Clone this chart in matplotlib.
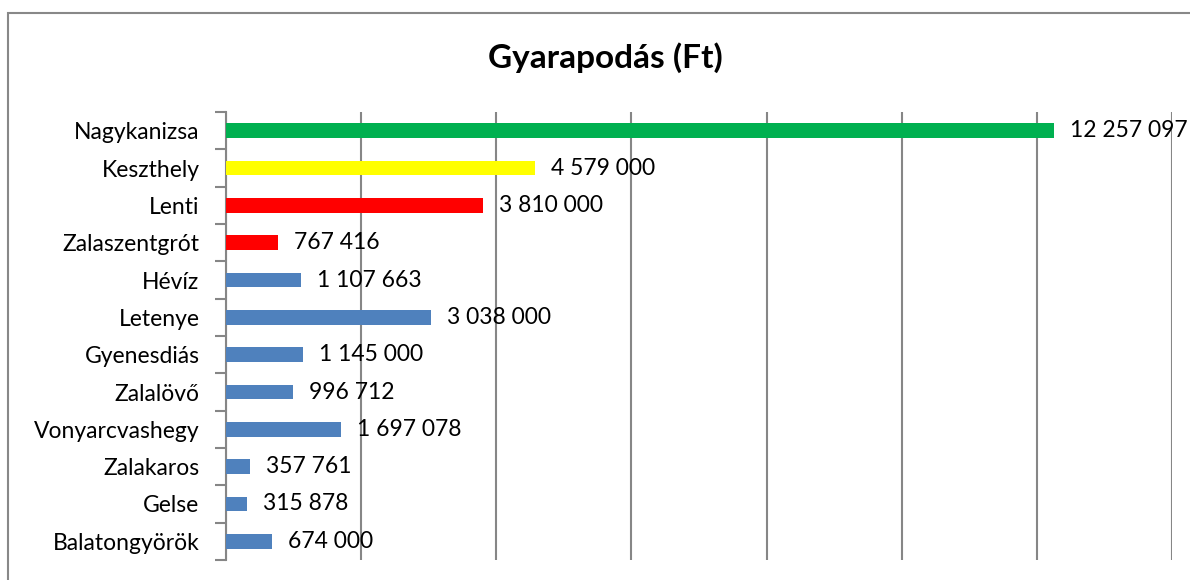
import numpy as np
from matplotlib import pyplot as plt
from matplotlib.patches import Rectangle

telepulesek = ["Nagykanizsa", "Keszthely", "Lenti", "Zalaszentgrót", "Hévíz", "Letenye",
               "Gyenesdiás", "Zalalövő", "Vonyarcvashegy", "Zalakaros", "Gelse", "Balatongyörök"]
gyarapodas = [12257097, 4579000, 3810000, 767416, 1107663, 3038000,
              1145000, 996712, 1697078, 357761, 315878, 674000]
szinek = ["#00B050", "#FFFF00", "#FF0000", "#FF0000"] + ["#4F81BD"] * 8

plt.rcParams['font.family'] = ['Lato', 'DejaVu Sans']

fig = plt.figure(figsize=(11.9, 5.8), dpi=100)
ax = fig.add_axes((226/1190, 20/580, (1172-226)/1190, (560-112)/580))

y = np.arange(len(telepulesek))
ax.barh(y, gyarapodas, height=0.4, color=szinek, zorder=3)
ax.set_ylim(len(telepulesek)-0.5, -0.5)
ax.set_xlim(0, 14000000)

for yi, v in zip(y, gyarapodas):
    s = "{:,}".format(v).replace(",", " ")
    ax.annotate(s, (v, yi), xytext=(16, 0), textcoords="offset pixels",
                va="center", ha="left", fontsize=16.5, color="black", zorder=4)

ax.set_xticks(np.arange(0, 14000001, 2000000))
ax.xaxis.grid(True, color="#868686", lw=1.5, zorder=0)
ax.tick_params(axis="x", length=0, labelbottom=False)

ax.set_yticks(y)
ax.set_yticklabels(telepulesek, fontsize=16.5)
ax.set_yticks(np.arange(-0.5, len(telepulesek)), minor=True)
ax.tick_params(axis="y", which="major", length=0, pad=19)
ax.tick_params(axis="y", which="minor", length=8, width=1.5, color="#868686")

for sp in ["top", "right", "bottom"]:
    ax.spines[sp].set_visible(False)
ax.spines["left"].set_color("#868686")
ax.spines["left"].set_linewidth(1.5)

fig.text(605/1190, 1 - 58/580, "Gyarapodás (Ft)", ha="center", va="center",
         fontsize=24, fontweight="bold")

fig.patches.append(Rectangle((8/1190, -0.1), 1.2, 1 - 13.5/580 + 0.1,
                             transform=fig.transFigure, fill=False,
                             edgecolor="#888888", lw=1.5))

fig.savefig("out.png", dpi=100)
